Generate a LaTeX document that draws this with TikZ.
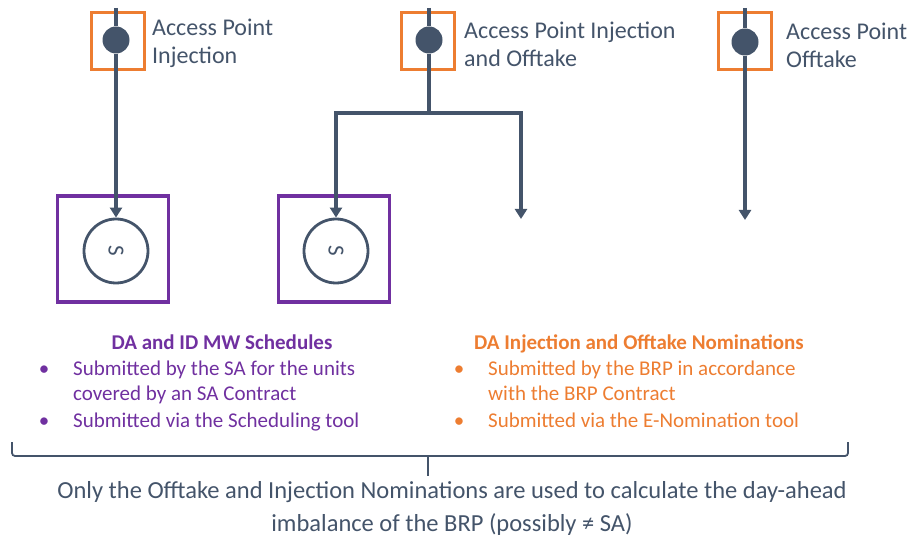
\documentclass[tikz,border=0pt]{standalone}
\usepackage{fontspec}
\setmainfont{Carlito}
\usetikzlibrary{arrows.meta}
\definecolor{slate}{HTML}{44546A}
\definecolor{ora}{HTML}{ED7D31}
\definecolor{pur}{HTML}{7030A0}
\begin{document}
\begin{tikzpicture}[x=1pt,y=-1pt,
  apbox/.style={draw=ora,line width=3.5pt,minimum width=53pt,minimum height=57pt,inner sep=0pt},
  apdot/.style={circle,fill=slate,minimum size=27pt,inner sep=0pt},
  saunit/.style={draw=pur,line width=3.5pt,minimum width=111pt,minimum height=106pt,inner sep=0pt},
  scirc/.style={circle,draw=slate,line width=2.8pt,minimum size=64pt,inner sep=0pt,font=\fontsize{23}{23}\selectfont,text=slate},
  conn/.style={draw=slate,line width=3.2pt,-{Triangle[width=12pt,length=10pt]}},
  plain/.style={draw=slate,line width=3.2pt},
  aplabel/.style={anchor=base west,text=slate,font=\fontsize{24}{28}\selectfont,align=left,inner sep=0pt},
  head/.style={anchor=base,font=\bfseries\fontsize{21}{24}\selectfont,inner sep=0pt},
  btext/.style={anchor=base west,font=\fontsize{21}{24}\selectfont,inner sep=0pt},
  bul/.style={anchor=base,font=\fontsize{21}{24}\selectfont,inner sep=0pt}
]
\useasboundingbox (0,0) rectangle (908,545);

% access points
\node[apbox] (b1) at (118,41) {};
\node[apbox] (b2) at (428,41) {};
\node[apbox] (b3) at (745,41) {};
\coordinate (t1) at (116,8);
\coordinate (t2) at (429,8);
\coordinate (t3) at (745,8);
\node[apdot] (d1) at (116,40) {};
\node[apdot] (d2) at (429,40) {};
\node[apdot] (d3) at (745,42) {};

\node[aplabel] (l1) at (152,64) {Access Point\\Injection};
\node[aplabel] (l2) at (464,67) {Access Point Injection\\and Offtake};
\node[aplabel] (l3) at (786,68) {Access Point\\Offtake};

% SA units
\node[saunit] (u1) at (113,249) {};
\node[saunit] (u2) at (334,249) {};
\node[scirc] (s1) at (116,251) {\rotatebox{-90}{S}};
\node[scirc] (s2) at (336,251) {\rotatebox{-90}{S}};

% connectors
\coordinate (j) at (429,113);
\coordinate (jl) at (336,113);
\coordinate (jr) at (521,113);
\coordinate (e2) at (521,219);
\coordinate (e3) at (745,220);
\draw[plain] (t1) -- (d1);
\draw[plain] (t2) -- (d2);
\draw[plain] (t3) -- (d3);
\draw[conn] (d1) -- (s1);
\draw[plain] (d2) -- (j);
\draw[conn] (j) -- (jl) -- (s2);
\draw[conn] (j) -- (jr) -- (e2);
\draw[conn] (d3) -- (e3);

% schedule texts
\node[head,text=pur] (h1) at (222,350) {DA and ID MW Schedules};
\node[bul,text=pur] (p1) at (44,375) {•};
\node[btext,text=pur] (q1) at (73,375) {Submitted by the SA for the units};
\node[btext,text=pur] (q2) at (73,400) {covered by an SA Contract};
\node[bul,text=pur] (p2) at (44,427) {•};
\node[btext,text=pur] (q3) at (73,427) {Submitted via the Scheduling tool};

\node[head,text=ora] (h2) at (639,350) {DA Injection and Offtake Nominations};
\node[bul,text=ora] (p3) at (459,375) {•};
\node[btext,text=ora] (q4) at (488,375) {Submitted by the BRP in accordance};
\node[btext,text=ora] (q5) at (488,400) {with the BRP Contract};
\node[bul,text=ora] (p4) at (459,427) {•};
\node[btext,text=ora] (q6) at (488,427) {Submitted via the E-Nomination tool};

% brace
\coordinate (bl) at (12,442);
\coordinate (br) at (848,442);
\coordinate (bm) at (428,456);
\coordinate (bt) at (428,476);
\draw[slate,line width=1.8pt,rounded corners=3pt] (bl) -- (12,456) -- (848,456) -- (br);
\draw[slate,line width=1.8pt] (bm) -- (bt);

\node[anchor=base,text=slate,font=\fontsize{24.5}{33}\selectfont,align=center,inner sep=0pt] (note) at (452,531)
  {Only the Offtake and Injection Nominations are used to calculate the day-ahead\\imbalance of the BRP (possibly ≠ SA)};
\end{tikzpicture}
\end{document}
